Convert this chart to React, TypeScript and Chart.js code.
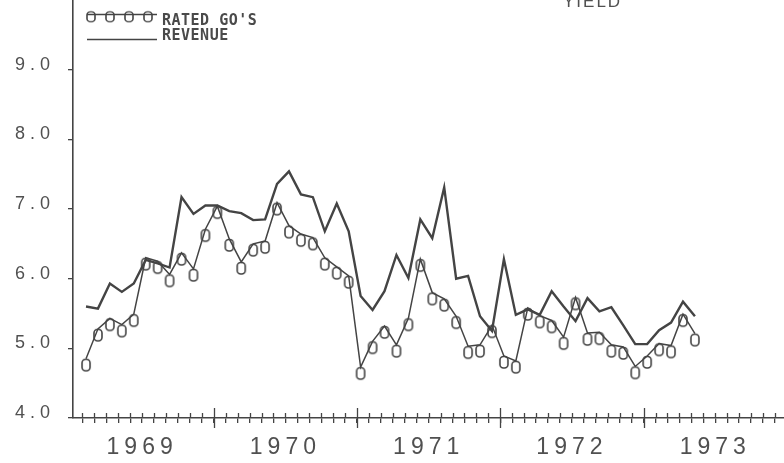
import React, { useEffect, useRef } from 'react';
import { Chart, registerables } from 'chart.js';

Chart.register(...registerables);

// months counted from January 1969 (0 = Jan 1969); first observation is Feb 1969
const FIRST_MONTH = 1;
const YEARS = ['1969', '1970', '1971', '1972', '1973'];
const Y_TICKS = [4, 5, 6, 7, 8, 9];

const RATED_GOS = [
  4.85, 5.28, 5.43, 5.34, 5.49, 6.30, 6.25, 6.06, 6.37, 6.14,
  6.71, 7.04, 6.57, 6.24, 6.50, 6.54, 7.09, 6.76, 6.64, 6.59,
  6.30, 6.17, 6.04, 4.73, 5.10, 5.32, 5.05, 5.43, 6.28, 5.80,
  5.71, 5.46, 5.03, 5.05, 5.33, 4.89, 4.82, 5.58, 5.47, 5.40,
  5.16, 5.73, 5.22, 5.23, 5.05, 5.02, 4.74, 4.89, 5.07, 5.04,
  5.49, 5.21,
];

const REVENUE = [
  5.60, 5.57, 5.93, 5.81, 5.93, 6.27, 6.22, 6.16, 7.17, 6.93,
  7.05, 7.05, 6.97, 6.94, 6.84, 6.85, 7.36, 7.54, 7.21, 7.17,
  6.68, 7.08, 6.68, 5.75, 5.55, 5.82, 6.34, 6.01, 6.85, 6.58,
  7.31, 6.00, 6.04, 5.46, 5.25, 6.28, 5.48, 5.56, 5.48, 5.82,
  5.60, 5.39, 5.72, 5.53, 5.59, 5.33, 5.06, 5.06, 5.26, 5.37,
  5.67, 5.46,
];

const INK = '#444444';
const TEXT = '#505050';

function makeMarker(): HTMLCanvasElement {
  const c = document.createElement('canvas');
  c.width = 12;
  c.height = 28;
  const g = c.getContext('2d')!;
  g.strokeStyle = INK;
  g.lineWidth = 1.6;
  g.beginPath();
  // "0"-shaped glyph hanging below the data point
  (g as any).roundRect(2, 14.5, 8, 11.5, 3.5);
  g.stroke();
  return c;
}

export default function App() {
  const ref = useRef<HTMLCanvasElement>(null);

  useEffect(() => {
    const canvas = ref.current!;
    const marker = makeMarker();
    const toPoints = (arr: number[]) => arr.map((y, i) => ({ x: FIRST_MONTH + i + 0.3, y }));

    const decor = {
      id: 'decor',
      beforeDraw(chart: any) {
        chart.ctx.letterSpacing = '5px';
      },
      afterDraw(chart: any) {
        const ctx = chart.ctx as CanvasRenderingContext2D;
        const xs = chart.scales.x;
        const base = chart.chartArea.bottom;
        ctx.save();
        (ctx as any).letterSpacing = '0px';
        ctx.strokeStyle = INK;
        ctx.lineWidth = 1.3;
        xs.ticks.forEach((t: any) => {
          const px = Math.round(xs.getPixelForValue(t.value)) + 0.5;
          const major = t.value % 12 === 0;
          ctx.beginPath();
          ctx.moveTo(px, base - (major ? 10 : 5));
          ctx.lineTo(px, base + (major ? 10 : 0));
          ctx.stroke();
        });

        // legend
        const ds = chart.data.datasets;
        ctx.lineWidth = 1.5;
        ctx.beginPath();
        ctx.moveTo(87, 14.5);
        ctx.lineTo(157, 14.5);
        ctx.stroke();
        [91, 110, 129, 148].forEach((mx) => {
          ctx.drawImage(marker, mx - marker.width / 2, 14.5 - marker.height / 2 - 1, marker.width, marker.height * 0.85);
        });
        ctx.lineWidth = 1.6;
        ctx.beginPath();
        ctx.moveTo(87, 39.5);
        ctx.lineTo(157, 39.5);
        ctx.stroke();

        ctx.fillStyle = '#4a4a4a';
        ctx.font = 'bold 15px "DejaVu Sans Mono"';
        (ctx as any).letterSpacing = '0.5px';
        ctx.textAlign = 'left';
        ctx.textBaseline = 'alphabetic';
        ctx.fillText(ds[0].label, 162, 25);
        ctx.fillText(ds[1].label, 162, 40);

        // clipped heading at the top edge
        ctx.font = '17px "Liberation Sans"';
        (ctx as any).letterSpacing = '2px';
        ctx.fillStyle = TEXT;
        ctx.fillText('YIELD', 563, 7);
        ctx.restore();
      },
    };

    const chart = new Chart(canvas, {
      type: 'line',
      data: {
        datasets: [
          {
            label: "RATED GO'S",
            data: toPoints(RATED_GOS),
            borderColor: INK,
            borderWidth: 1.5,
            pointStyle: marker as any,
            pointRadius: 6,
            pointBorderColor: INK,
            tension: 0,
            fill: false,
          },
          {
            label: 'REVENUE',
            data: toPoints(REVENUE),
            borderColor: INK,
            borderWidth: 2.4,
            pointRadius: 0,
            tension: 0,
            fill: false,
          },
        ],
      },
      options: {
        responsive: false,
        devicePixelRatio: 1,
        animation: false,
        events: [],
        layout: { padding: 0, autoPadding: false },
        plugins: {
          legend: { display: false },
          tooltip: { enabled: false },
          title: { display: false },
        },
        scales: {
          x: {
            type: 'linear',
            min: 0.21,
            max: 59.76,
            afterBuildTicks: (axis: any) => {
              const t = [];
              for (let m = 1; m <= 59; m++) t.push({ value: m });
              axis.ticks = t;
            },
            afterFit: (s: any) => {
              s.height = 45;
              s.paddingLeft = 0;
              s.paddingRight = 0;
            },
            ticks: {
              autoSkip: false,
              maxRotation: 0,
              minRotation: 0,
              padding: 11,
              color: TEXT,
              font: { family: 'Liberation Sans', size: 23 },
              callback: (v: any) => {
                const n = Number(v);
                return n % 12 === 6 ? YEARS[(n - 6) / 12] : '';
              },
            },
            grid: {
              drawOnChartArea: false,
              drawTicks: true,
              tickLength: 5,
              color: INK,
              lineWidth: 1.3,
            },
            border: { display: true, color: INK, width: 1.6 },
          },
          y: {
            type: 'linear',
            min: 4,
            max: 10,
            afterBuildTicks: (axis: any) => {
              axis.ticks = Y_TICKS.map((v) => ({ value: v }));
            },
            afterFit: (s: any) => {
              s.width = 73;
              s.paddingTop = 0;
              s.paddingBottom = 0;
            },
            ticks: {
              padding: 13,
              labelOffset: -5,
              color: TEXT,
              font: { family: 'Liberation Sans', size: 18 },
              callback: (v: any) => Number(v).toFixed(1),
            },
            grid: {
              drawOnChartArea: false,
              drawTicks: true,
              tickLength: 5,
              color: INK,
              lineWidth: 1.3,
            },
            border: { display: true, color: INK, width: 1.6 },
          },
        },
      },
      plugins: [decor],
    });

    return () => chart.destroy();
  }, []);

  return (
    <div style={{ position: 'absolute', left: 0, top: 0, width: 784, height: 463, background: '#ffffff' }}>
      <canvas ref={ref} width={784} height={463} style={{ display: 'block', width: 784, height: 463 }} />
    </div>
  );
}
